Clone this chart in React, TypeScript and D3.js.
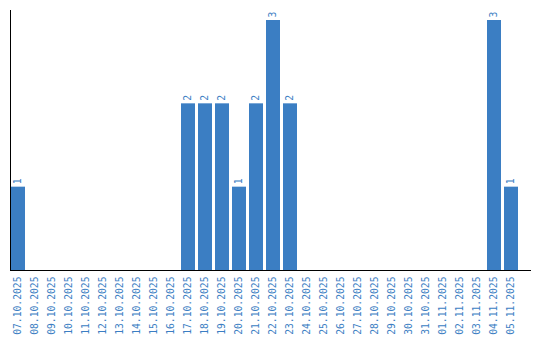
import React from "react";
import * as d3 from "d3";

const dates = [
  "07.10.2025","08.10.2025","09.10.2025","10.10.2025","11.10.2025","12.10.2025",
  "13.10.2025","14.10.2025","15.10.2025","16.10.2025","17.10.2025","18.10.2025",
  "19.10.2025","20.10.2025","21.10.2025","22.10.2025","23.10.2025","24.10.2025",
  "25.10.2025","26.10.2025","27.10.2025","28.10.2025","29.10.2025","30.10.2025",
  "31.10.2025","01.11.2025","02.11.2025","03.11.2025","04.11.2025","05.11.2025",
];
const counts = [1,0,0,0,0,0,0,0,0,0,2,2,2,1,2,3,2,0,0,0,0,0,0,0,0,0,0,0,3,1];

const W = 540, H = 340;
const left = 11, baseY = 270, topY = 10;
const color = "#3b7ec3";
const font = "DejaVu Sans Mono, monospace";

export default function App() {
  const x = d3.scaleBand<string>().domain(dates).range([left, left + 17 * dates.length]).paddingInner(3 / 17).paddingOuter(3 / 34).align(0);
  const y = d3.scaleLinear().domain([0, 3]).range([baseY, 20]);
  const bw = x.bandwidth();
  return (
    <svg width={W} height={H} style={{ position: "absolute", left: 0, top: 0 }}>
      {dates.map((d, i) => {
        const v = counts[i];
        const x0 = x(d) as number;
        const cx = x0 + bw / 2;
        return (
          <g key={d}>
            {v > 0 && (
              <rect x={x0} y={y(v)} width={bw} height={baseY - y(v)} fill={color} />
            )}
            {v > 0 && (
              <text transform={`translate(${cx},${y(v) - 2.5}) rotate(-90)`} dy="0.35em" textAnchor="start" fontSize={9.7} fill={color} fontFamily={font}>
                {v}
              </text>
            )}
            <text transform={`translate(${cx - 0.5},276.5) rotate(-90)`} dy="0.35em" textAnchor="end" fontSize={9.7} fill={color} fontFamily={font}>
              {d}
            </text>
          </g>
        );
      })}
      <line x1={10.5} x2={10.5} y1={topY} y2={baseY} stroke="#000" strokeWidth={1} />
      <line x1={10} x2={531} y1={270.5} y2={270.5} stroke="#000" strokeWidth={1} />
    </svg>
  );
}
